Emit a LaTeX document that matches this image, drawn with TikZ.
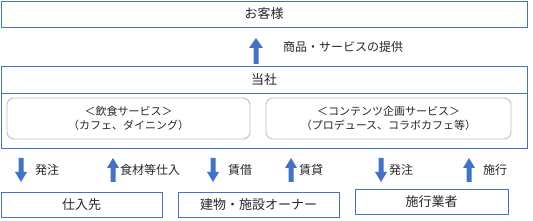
\documentclass[tikz,border=0pt]{standalone}
\usepackage{fontspec}
\setmainfont{Noto Sans CJK JP}
\usetikzlibrary{positioning}
\definecolor{obl}{HTML}{4472C4}
\definecolor{txt}{HTML}{262626}
\definecolor{gry}{HTML}{BFBFBF}
\tikzset{
  box/.style={draw=obl, line width=0.9pt, inner sep=0pt, text=txt, font=\fontsize{13}{14}\selectfont},
  rbox/.style={draw=gry, line width=0.9pt, rounded corners=7pt, inner sep=0pt, text=txt, align=center, font=\fontsize{11}{13.5}\selectfont},
  lbl/.style={text=txt, inner sep=0pt, anchor=west, font=\fontsize{12}{13}\selectfont},
}
\newcommand{\downarr}[1]{\fill[obl] (#1-2.5,158) -- (#1+2.5,158) -- (#1+2.5,172) -- (#1+6,172) -- (#1,182) -- (#1-6,172) -- (#1-2.5,172) -- cycle;}
\newcommand{\uparrw}[1]{\fill[obl] (#1-2.5,182) -- (#1+2.5,182) -- (#1+2.5,168) -- (#1+6,168) -- (#1,158) -- (#1-6,168) -- (#1-2.5,168) -- cycle;}
\begin{document}
\begin{tikzpicture}[x=1pt,y=-1pt]
\useasboundingbox (0,0) rectangle (533,221);
% top
\node[box, minimum width=526, minimum height=26] (cust) at (264,14) {お客様};
% top arrow
\fill[obl] (253.5,64) -- (253.5,48) -- (249,48) -- (256,38) -- (263,48) -- (258.5,48) -- (258.5,64) -- cycle;
\node[lbl] (prov) at (283,47) {商品・サービスの提供};
% company
\draw[obl, line width=0.9pt] (1,66) rectangle (527,148);
\draw[obl, line width=0.9pt] (1,93) -- (527,93);
\node[text=txt, font=\fontsize{13}{14}\selectfont, inner sep=0pt] (co) at (264,80) {当社};
\node[rbox, minimum width=243, minimum height=41] (food) at (128.5,118.5) {＜飲食サービス＞\\（カフェ、ダイニング）};
\node[rbox, minimum width=245, minimum height=41] (cont) at (388.5,118.5) {＜コンテンツ企画サービス＞\\（プロデュース、コラボカフェ等）};
% small arrows
\downarr{21}
\uparrw{113}
\downarr{213}
\uparrw{291}
\downarr{381}
\uparrw{469}
\node[lbl] (l1) at (35,170) {発注};
\node[lbl] (l2) at (120,170) {食材等仕入};
\node[lbl] (l3) at (228,170) {賃借};
\node[lbl] (l4) at (299,170) {賃貸};
\node[lbl] (l5) at (389,170) {発注};
\node[lbl] (l6) at (483,170) {施行};
% bottom boxes
\node[box, minimum width=161, minimum height=25] (sup) at (81.5,204.5) {仕入先};
\node[box, minimum width=161, minimum height=25] (own) at (258.5,204.5) {建物・施設オーナー};
\node[box, minimum width=153, minimum height=25] (con) at (431.5,201.5) {施行業者};
\end{tikzpicture}
\end{document}
